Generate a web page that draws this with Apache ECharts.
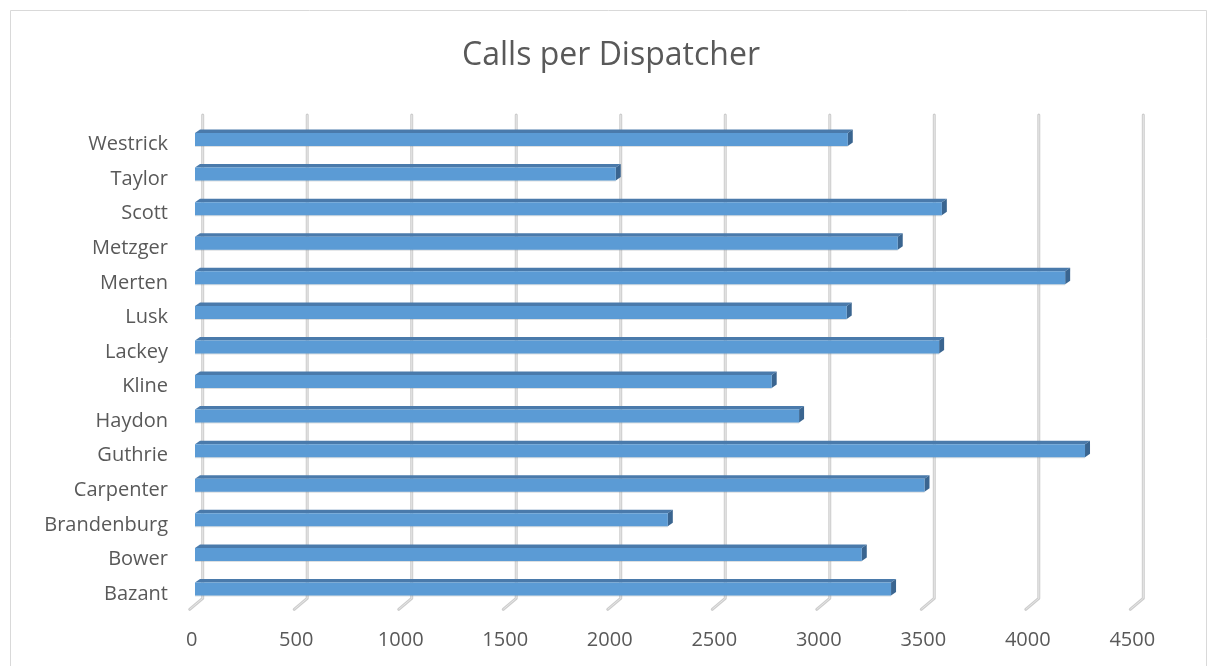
<!DOCTYPE html>
<html>
<head>
<meta charset="utf-8">
<script src="https://cdn.jsdelivr.net/npm/echarts@6/dist/echarts.min.js"></script>
<style>html,body{margin:0;padding:0;background:#fff;}#c{width:1209px;height:666px;}</style>
</head>
<body>
<div id="c"></div>
<script>
const categories = ['Bazant','Bower','Brandenburg','Carpenter','Guthrie','Haydon','Kline','Lackey','Lusk','Merten','Metzger','Scott','Taylor','Westrick'];
const calls = [3330, 3190, 2262, 3490, 4258, 2890, 2759, 3560, 3118, 4163, 3362, 3573, 2013, 3123];
const xTicks = [0, 500, 1000, 1500, 2000, 2500, 3000, 3500, 4000, 4500];
const titleText = 'Calls per Dispatcher';

const FONT = 'Open Sans';
const chart = echarts.init(document.getElementById('c'), null, {renderer: 'canvas'});

const barData = calls.map((v, i) => [v, i]);
const gridData = xTicks.map(v => [v, 0]);

chart.setOption({
  animation: false,
  backgroundColor: '#fff',
  title: {
    text: titleText,
    left: 606,
    top: 35,
    textAlign: 'center',
    textStyle: {fontFamily: FONT, fontSize: 32, fontWeight: 'normal', color: '#595959'}
  },
  graphic: [{
    type: 'rect', silent: true, z: -10,
    shape: {x: 10.5, y: 10.5, width: 1196, height: 700},
    style: {fill: 'none', stroke: '#d9d9d9', lineWidth: 1}
  }],
  grid: {left: 202.7, right: 65.7, top: 122.2, bottom: 59.7},
  xAxis: {
    type: 'value', min: 0, max: 4500, interval: 500,
    axisLine: {show: false}, axisTick: {show: false}, splitLine: {show: false},
    axisLabel: {color: '#595959', fontFamily: FONT, fontSize: 20, margin: 24, padding: [0, 22, 0, 0],
      formatter: function (v) { return String(v); }}
  },
  yAxis: {
    type: 'category', data: categories,
    axisLine: {show: false}, axisTick: {show: false}, splitLine: {show: false},
    axisLabel: {color: '#595959', fontFamily: FONT, fontSize: 20, margin: 34.7, verticalAlign: 'top', lineHeight: 10}
  },
  series: [
    {
      type: 'custom', name: 'grid', z: 1, clip: false, silent: true,
      encode: {x: 0, y: 1},
      data: gridData,
      renderItem: function (params, api) {
        const x = api.coord([api.value(0), 0])[0];
        const cs = params.coordSys;
        const top = cs.y - 7.2;
        const vb = cs.y + cs.height - 8;
        const pts = [[x, top], [x, vb], [x - 13, vb + 11]];
        return {
          type: 'group',
          children: [
            {type: 'polyline', shape: {points: pts}, style: {stroke: '#cdcdcd', lineWidth: 3, fill: 'none', lineJoin: 'round', lineCap: 'round'}},
            {type: 'polyline', shape: {points: pts}, style: {stroke: '#e6e6e6', lineWidth: 1, fill: 'none', lineJoin: 'round'}}
          ]
        };
      }
    },
    {
      type: 'custom', name: 'Calls', z: 2, clip: false,
      encode: {x: 0, y: 1},
      data: barData,
      renderItem: function (params, api) {
        const v = api.value(0), c = api.value(1);
        const p0 = api.coord([0, c]);
        const p1 = api.coord([v, c]);
        const h = 13, dx = 5, dy = 3.5;
        const xb0 = p0[0] - 2.7, xb1 = p1[0] - 2.7;
        const xf0 = xb0 - dx, xf1 = xb1 - dx;
        const yf0 = p0[1] - h / 2, yf1 = p0[1] + h / 2;
        return {
          type: 'group',
          children: [
            {type: 'rect', shape: {x: xf0, y: yf0 + 1, width: xf1 - xf0, height: h}, style: {fill: 'rgba(120,130,140,0.25)'}},
            {type: 'polygon', shape: {points: [[xf0, yf0], [xb0, yf0 - dy], [xb1, yf0 - dy], [xf1, yf0]]}, style: {fill: '#4a7aab'}},
            {type: 'polygon', shape: {points: [[xf1, yf0], [xb1, yf0 - dy], [xb1, yf1 - dy], [xf1, yf1]]}, style: {fill: '#3a6590'}},
            {type: 'rect', shape: {x: xf0, y: yf0, width: xf1 - xf0, height: h}, style: {fill: '#5b9bd5'}}
          ]
        };
      }
    }
  ]
});
</script>
</body>
</html>
